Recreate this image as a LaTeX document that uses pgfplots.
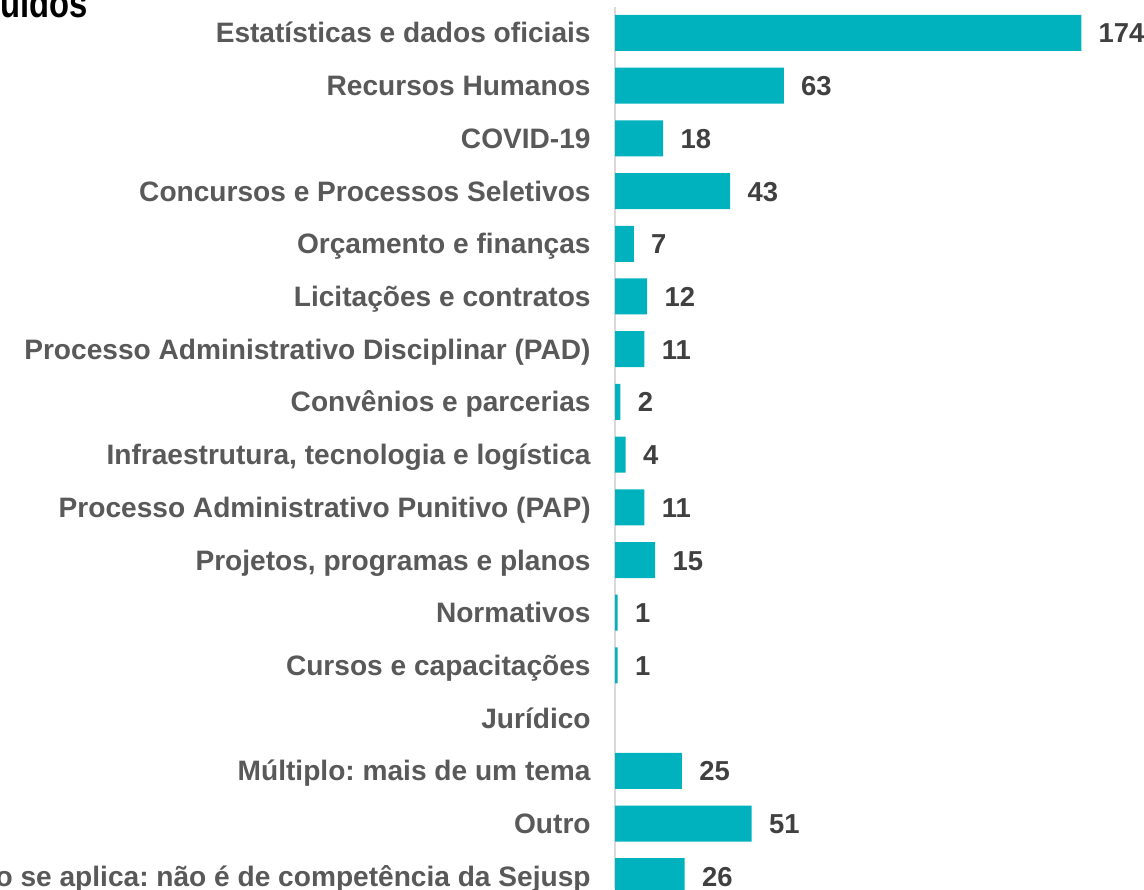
\documentclass[border=0pt]{standalone}
\usepackage{pgfplots}
\pgfplotsset{compat=1.18}
\usepackage{fontspec}
\setmainfont{Liberation Sans}
\definecolor{barteal}{HTML}{00B2BD}
\definecolor{labgray}{HTML}{595959}
\definecolor{valgray}{HTML}{404040}
\definecolor{axgray}{HTML}{D9D9D9}

\begin{document}
\frenchspacing
\begin{tikzpicture}
% visible window of the original (1144 x 889 px at 0.5pt per px)
\clip (0,0) rectangle (572pt,444.5pt);
\fill[white] (0,0) rectangle (572pt,444.5pt);

\node[anchor=base east, inner sep=0pt] at (44pt,435.5pt)
  {\scalebox{0.82}[1]{\fontsize{20}{24}\selectfont\bfseries uidos}};

\begin{axis}[
  at={(307.5pt,0pt)}, anchor=south west,
  scale only axis,
  width=264.5pt, height=441pt,
  xbar, bar width=18pt,
  xmin=0, xmax=197.4,
  ymin=-0.493, ymax=16.243,
  y dir=reverse,
  axis x line=none,
  axis y line*=left,
  axis line style={axgray, line width=0.8pt, -},
  ytick={0,...,16},
  yticklabels={
    Estatísticas e dados oficiais,
    Recursos Humanos,
    COVID-19,
    Concursos e Processos Seletivos,
    Orçamento e finanças,
    Licitações e contratos,
    Processo Administrativo Disciplinar (PAD),
    Convênios e parcerias,
    {Infraestrutura, tecnologia e logística},
    Processo Administrativo Punitivo (PAP),
    {Projetos, programas e planos},
    Normativos,
    Cursos e capacitações,
    Jurídico,
    Múltiplo: mais de um tema,
    Outro,
    Não se aplica: não é de competência da Sejusp},
  major tick length=0pt,
  yticklabel style={font=\fontsize{14.05}{16}\selectfont\bfseries,
    text=labgray, inner sep=0pt, anchor=base east, xshift=-12pt, yshift=-5pt},
  /pgf/number format/assume math mode=true,
  point meta=x,
  nodes near coords,
  nodes near coords style={font=\fontsize{13.7}{16}\selectfont\bfseries,
    text=valgray, anchor=base west, inner sep=0pt, xshift=8.5pt, yshift=-5pt},
  clip=false,
]
\addplot[fill=barteal, draw=none] coordinates {
  (174,0) (63,1) (18,2) (43,3) (7,4) (12,5) (11,6) (2,7) (4,8)
  (11,9) (15,10) (1,11) (1,12) (25,14) (51,15) (26,16)};
\end{axis}
\end{tikzpicture}
\end{document}
